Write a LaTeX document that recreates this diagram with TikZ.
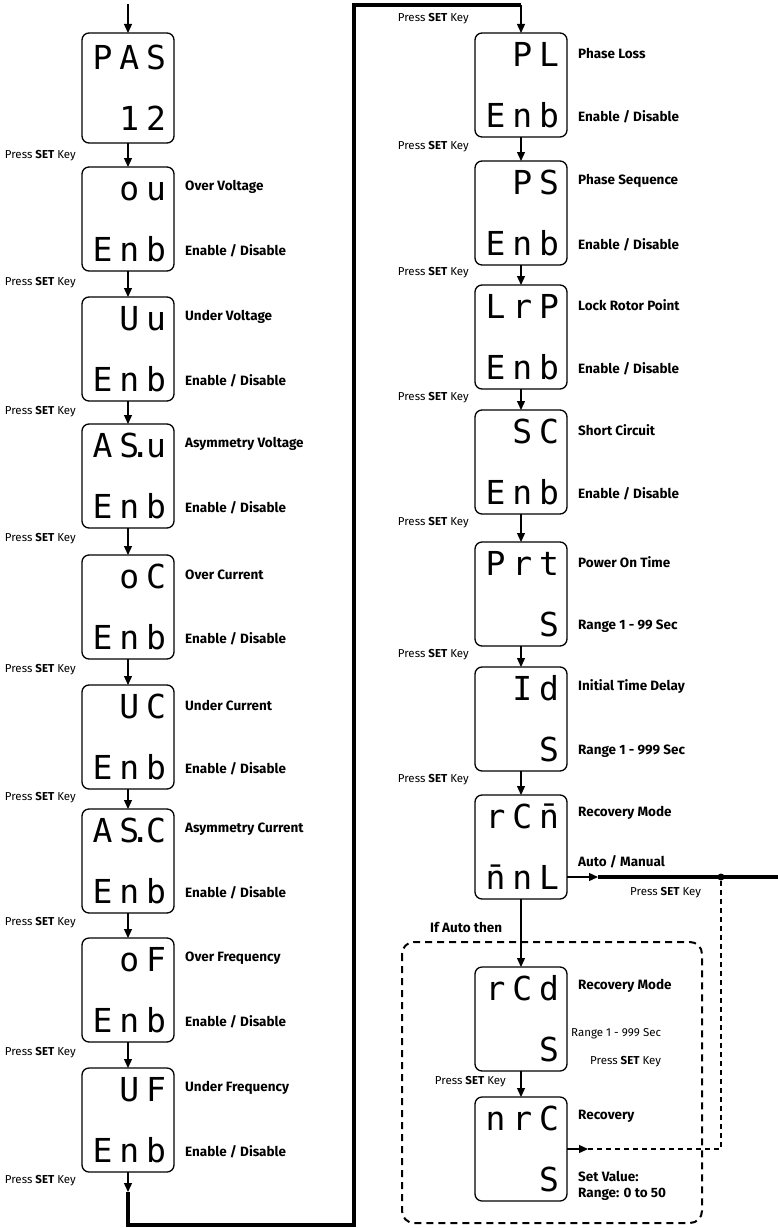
\documentclass[tikz,border=0pt]{standalone}
\usepackage{fontspec}
\setmainfont{Fira Sans}
\newfontfamily\lcdfont[LetterSpace=21]{DejaVu Sans Mono}
\usetikzlibrary{positioning,arrows.meta,calc}
\tikzset{
	>={Triangle[length=9pt,width=8pt]}
}
\newcommand{\setkey}{Press \textbf{SET} Key}
\newcommand{\lcd}[2]{\vphantom{E}#1\\#2}
\newcommand{\lcddot}{\rlap{\kern-9pt.}\kern6.9pt}

\begin{document}
\begin{tikzpicture}[
x = 1pt, y = 1pt,
node distance = 25pt,
lcd/.style = {
	draw,
	line width = 1.3pt,
	outer sep = 0pt,
	rounded corners = 7pt,
	minimum width = 92pt,
	minimum height = 104pt,
	text width = 76pt,
	inner xsep = 8pt,
	align = right,
	font = \lcdfont\fontsize{33}{61}\selectfont
},
lbl/.style = {
	font = \bfseries\fontsize{13.5}{16}\selectfont,
	inner sep = 0pt,
	align = left
},
press/.style = {
	font = \fontsize{11.5}{13}\selectfont,
	inner sep = 0pt
},
conn/.style = {
	line width = 1.3pt
},
bus/.style = {
	line width = 3.5pt
},
loopback/.style = {
	line width = 1.3pt,
	dash pattern = on 5pt off 4pt
},
autobox/.style = {
	line width = 2pt,
	dash pattern = on 7pt off 5pt,
	rounded corners = 12pt
}
]
\useasboundingbox (0,0) rectangle (778,-1228);

% left column
\node (pas) [lcd, minimum height=110pt] at (128,-88) {\lcd{PAS}{12}};
\node (ov) [lcd, below=24pt of pas] {\lcd{ou}{Enb}};
\node (uv) [lcd, below=26pt of ov] {\lcd{Uu}{Enb}};
\node (asv) [lcd, below=23pt of uv] {\lcd{AS\lcddot u}{Enb}};
\node (oc) [lcd, below=27pt of asv] {\lcd{oC}{Enb}};
\node (uc) [lcd, below=26pt of oc] {\lcd{UC}{Enb}};
\node (asc) [lcd, below=20pt of uc] {\lcd{AS\lcddot C}{Enb}};
\node (of) [lcd, below=25pt of asc] {\lcd{oF}{Enb}};
\node (uf) [lcd, below=26pt of of] {\lcd{UF}{Enb}};

\node [lbl, right=11pt of ov.north east, yshift=-20pt] {Over Voltage};
\node [lbl, right=11pt of ov.south east, yshift=20pt] {Enable / Disable};
\node [lbl, right=11pt of uv.north east, yshift=-20pt] {Under Voltage};
\node [lbl, right=11pt of uv.south east, yshift=20pt] {Enable / Disable};
\node [lbl, right=11pt of asv.north east, yshift=-20pt] {Asymmetry Voltage};
\node [lbl, right=11pt of asv.south east, yshift=20pt] {Enable / Disable};
\node [lbl, right=11pt of oc.north east, yshift=-20pt] {Over Current};
\node [lbl, right=11pt of oc.south east, yshift=20pt] {Enable / Disable};
\node [lbl, right=11pt of uc.north east, yshift=-20pt] {Under Current};
\node [lbl, right=11pt of uc.south east, yshift=20pt] {Enable / Disable};
\node [lbl, right=11pt of asc.north east, yshift=-20pt] {Asymmetry Current};
\node [lbl, right=11pt of asc.south east, yshift=20pt] {Enable / Disable};
\node [lbl, right=11pt of of.north east, yshift=-20pt] {Over Frequency};
\node [lbl, right=11pt of of.south east, yshift=20pt] {Enable / Disable};
\node [lbl, right=11pt of uf.north east, yshift=-20pt] {Under Frequency};
\node [lbl, right=11pt of uf.south east, yshift=20pt] {Enable / Disable};

\node [press, left=6pt of pas.south west, yshift=-13pt] {\setkey};
\node [press, left=6pt of ov.south west, yshift=-12pt] {\setkey};
\node [press, left=6pt of uv.south west, yshift=-11pt] {\setkey};
\node [press, left=6pt of asv.south west, yshift=-11pt] {\setkey};
\node [press, left=6pt of oc.south west, yshift=-11pt] {\setkey};
\node [press, left=6pt of uc.south west, yshift=-9pt] {\setkey};
\node [press, left=6pt of asc.south west, yshift=-10pt] {\setkey};
\node [press, left=6pt of of.south west, yshift=-11pt] {\setkey};
\node [press, left=6pt of uf.south west, yshift=-9pt] {\setkey};

% right column
\node (pl) [lcd] at (521,-85) {\lcd{PL}{Enb}};
\node (ps) [lcd, below=24pt of pl] {\lcd{PS}{Enb}};
\node (lrp) [lcd, below=20pt of ps] {\lcd{LrP}{Enb}};
\node (sc) [lcd, below=21pt of lrp] {\lcd{SC}{Enb}};
\node (prt) [lcd, below=28pt of sc] {\lcd{Prt}{S}};
\node (id) [lcd, below=21pt of prt] {\lcd{Id}{S}};
\node (rcm) [lcd, below=24pt of id] {\lcd{rC\=n}{\=nnL}};
\node (rcd) [lcd, below=68pt of rcm] {\lcd{rCd}{S}};
\node (nrc) [lcd, below=26pt of rcd] {\lcd{nrC}{S}};

\node [lbl, right=11pt of pl.north east, yshift=-20pt] {Phase Loss};
\node [lbl, right=11pt of pl.south east, yshift=20pt] {Enable / Disable};
\node [lbl, right=11pt of ps.north east, yshift=-20pt] {Phase Sequence};
\node [lbl, right=11pt of ps.south east, yshift=20pt] {Enable / Disable};
\node [lbl, right=11pt of lrp.north east, yshift=-20pt] {Lock Rotor Point};
\node [lbl, right=11pt of lrp.south east, yshift=20pt] {Enable / Disable};
\node [lbl, right=11pt of sc.north east, yshift=-20pt] {Short Circuit};
\node [lbl, right=11pt of sc.south east, yshift=20pt] {Enable / Disable};
\node [lbl, right=11pt of prt.north east, yshift=-20pt] {Power On Time};
\node [lbl, right=11pt of prt.south east, yshift=20pt] {Range 1 - 99 Sec};
\node [lbl, right=11pt of id.north east, yshift=-20pt] {Initial Time Delay};
\node [lbl, right=11pt of id.south east, yshift=20pt] {Range 1 - 999 Sec};
\node [lbl, right=11pt of rcm.north east, yshift=-18pt] {Recovery Mode};
\node [lbl, right=11pt of rcm.south east, yshift=37pt] {Auto / Manual};
\node [press, right=63pt of rcm.south east, yshift=6pt] {\setkey};
\node [lbl, right=11pt of rcd.north east, yshift=-19pt] {Recovery Mode};
\node [press, right=4pt of rcd.south east, yshift=37pt] {Range 1 - 999 Sec};
\node [press, right=23pt of rcd.south east, yshift=9pt] {\setkey};
\node [lbl, right=11pt of nrc.north east, yshift=-19pt] {Recovery};
\node [lbl, right=11pt of nrc.south east, yshift=15pt] {Set Value:\\Range: 0 to 50};

\node [press, left=6pt of pl.north west, yshift=14pt] {\setkey};
\node [press, left=6pt of pl.south west, yshift=-10pt] {\setkey};
\node [press, left=6pt of ps.south west, yshift=-8pt] {\setkey};
\node [press, left=6pt of lrp.south west, yshift=-9pt] {\setkey};
\node [press, left=6pt of sc.south west, yshift=-9pt] {\setkey};
\node [press, left=6pt of prt.south west, yshift=-9pt] {\setkey};
\node [press, left=6pt of id.south west, yshift=-9pt] {\setkey};
\node [press, left=15pt of rcd.south, yshift=-11pt] {\setkey};
\node [lbl, anchor=west] at (430,-927) {If Auto then};

% connectors
\coordinate (entry) at (128,-4);
\coordinate (wrap0) at (128,-1192);
\coordinate (wrap1) at (354,-1225);
\coordinate (wrap2) at (521,-5);
\coordinate (mode) at (598,-877);
\coordinate (join) at (721,-877);
\coordinate (exit) at (778,-877);
\coordinate [right=21pt of nrc.east] (back);

\draw [->, conn] (entry) -- (pas);
\draw [->, conn] (pas) -- (ov);
\draw [->, conn] (ov) -- (uv);
\draw [->, conn] (uv) -- (asv);
\draw [->, conn] (asv) -- (oc);
\draw [->, conn] (oc) -- (uc);
\draw [->, conn] (uc) -- (asc);
\draw [->, conn] (asc) -- (of);
\draw [->, conn] (of) -- (uf);
\draw [->, conn] (uf) -- (wrap0);
\draw [bus] (wrap0) |- (wrap1) |- (wrap2);
\draw [->, conn] (wrap2) -- (pl);
\draw [->, conn] (pl) -- (ps);
\draw [->, conn] (ps) -- (lrp);
\draw [->, conn] (lrp) -- (sc);
\draw [->, conn] (sc) -- (prt);
\draw [->, conn] (prt) -- (id);
\draw [->, conn] (id) -- (rcm);
\draw [->, conn] (rcm) -- (rcd);
\draw [->, conn] (rcd) -- (nrc);
\draw [->, conn] (rcm.east |- mode) -- (mode);
\draw [bus] (mode) -- (exit);
\fill (join) circle (3.5pt);
\draw [->, conn] (nrc) -- (back);
\draw [loopback] (back) -| (join);
\draw [autobox] (402,-942) rectangle (702,-1223);

\end{tikzpicture}
\end{document}
